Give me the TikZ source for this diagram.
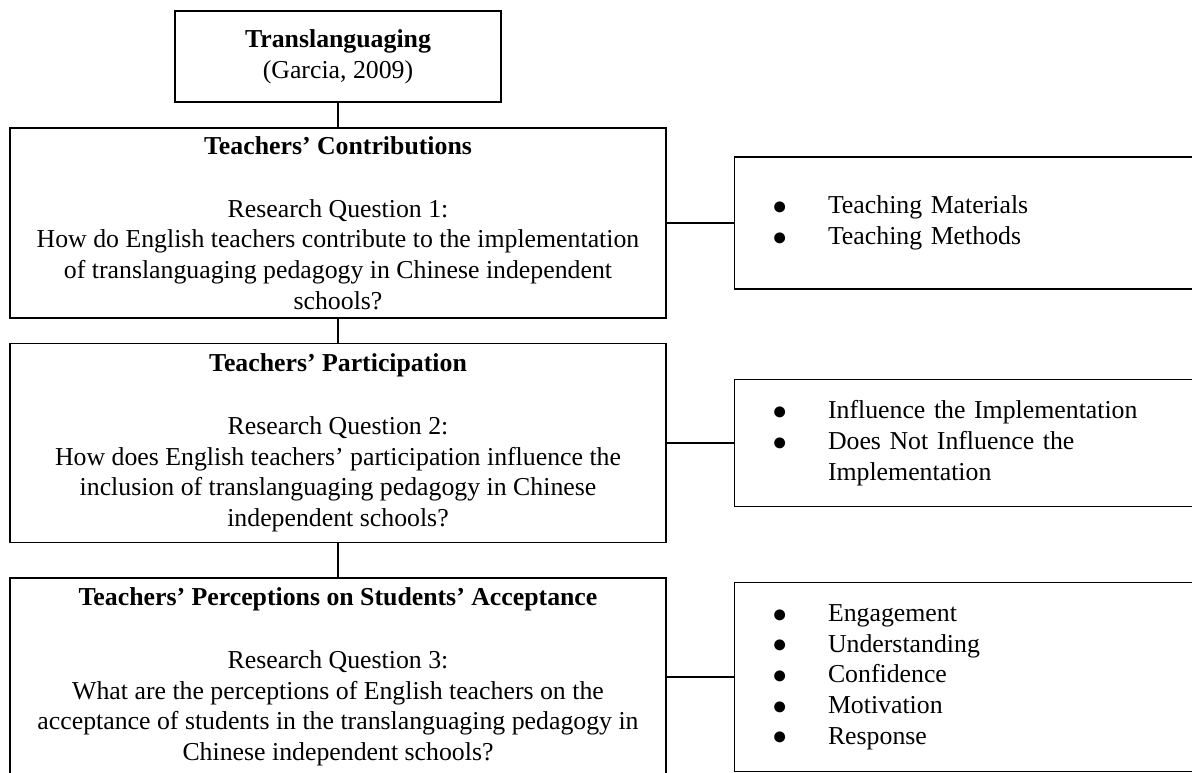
\documentclass[tikz,border=0pt]{standalone}
\usepackage{fontspec}
\setmainfont{Liberation Serif}

\tikzset{
  link/.style={line width=0.9pt},
  box/.style={draw, line width=0.9pt, align=center, inner sep=0pt,
    font=\fontsize{19.35}{23}\selectfont},
  qbox/.style={box, minimum width=492pt},
  listbox/.style={draw, line width=0.9pt, align=left, inner ysep=0pt,
    inner xsep=31.1pt, text width=282pt,
    font=\fontsize{19.35}{23}\selectfont},
}
\newcommand{\dotmark}{\smash{\raisebox{-0.5pt}{\fontsize{19}{0}\selectfont ●}}}
\newcommand{\bul}[1]{\makebox[39pt][l]{\hspace*{-3pt}\dotmark}#1}
\newcommand{\cont}[1]{\hspace*{39pt}#1}

\begin{document}
\begin{tikzpicture}[x=0.75pt,y=-0.75pt]

\def\lx{338}
\def\rx{964}

\useasboundingbox (0,0) rectangle (1192,773);
\clip (0,0) rectangle (1192,773);

% THEORY
\node [box, minimum width=244.5pt, minimum height=68.25pt] (theory) at (\lx,56.5)
  {\textbf{Translanguaging}\\(Garcia, 2009)};

% RESEARCH QUESTIONS
\node [qbox, minimum height=142.5pt] (rq1) at (\lx,223)
  {\textbf{Teachers’ Contributions}\\[24pt]
   Research Question 1:\\
   How do English teachers contribute to the implementation\\
   of translanguaging pedagogy in Chinese independent\\
   schools?};

\node [qbox, minimum height=149.25pt] (rq2) at (\lx,443)
  {\textbf{Teachers’ Participation}\\[24pt]
   Research Question 2:\\
   How does English teachers’ participation influence the\\
   inclusion of translanguaging pedagogy in Chinese\\
   independent schools?};

\node [qbox, minimum height=148.5pt] (rq3) at (\lx,677)
  {\textbf{Teachers’ Perceptions on Students’ Acceptance}\\[24pt]
   Research Question 3:\\
   What are the perceptions of English teachers on the\\
   acceptance of students in the translanguaging pedagogy in\\
   Chinese independent schools?};

% FINDINGS
\node [listbox, minimum height=99pt] (find1) at (\rx,223)
  {\bul{Teaching Materials}\\
   \bul{Teaching Methods}};

\node [listbox, minimum height=95.25pt] (find2) at (\rx,443)
  {\bul{Influence the Implementation}\\
   \bul{Does Not Influence the}\\
   \cont{Implementation}};

\node [listbox, minimum height=141.75pt] (find3) at (\rx,677)
  {\bul{Engagement}\\
   \bul{Understanding}\\
   \bul{Confidence}\\
   \bul{Motivation}\\
   \bul{Response}};

% LINKS
\draw [link] (theory) -- (rq1);
\draw [link] (rq1) -- (rq2);
\draw [link] (rq2) -- (rq3);
\draw [link] (rq1) -- (find1);
\draw [link] (rq2) -- (find2);
\draw [link] (rq3) -- (find3);

\end{tikzpicture}
\end{document}
